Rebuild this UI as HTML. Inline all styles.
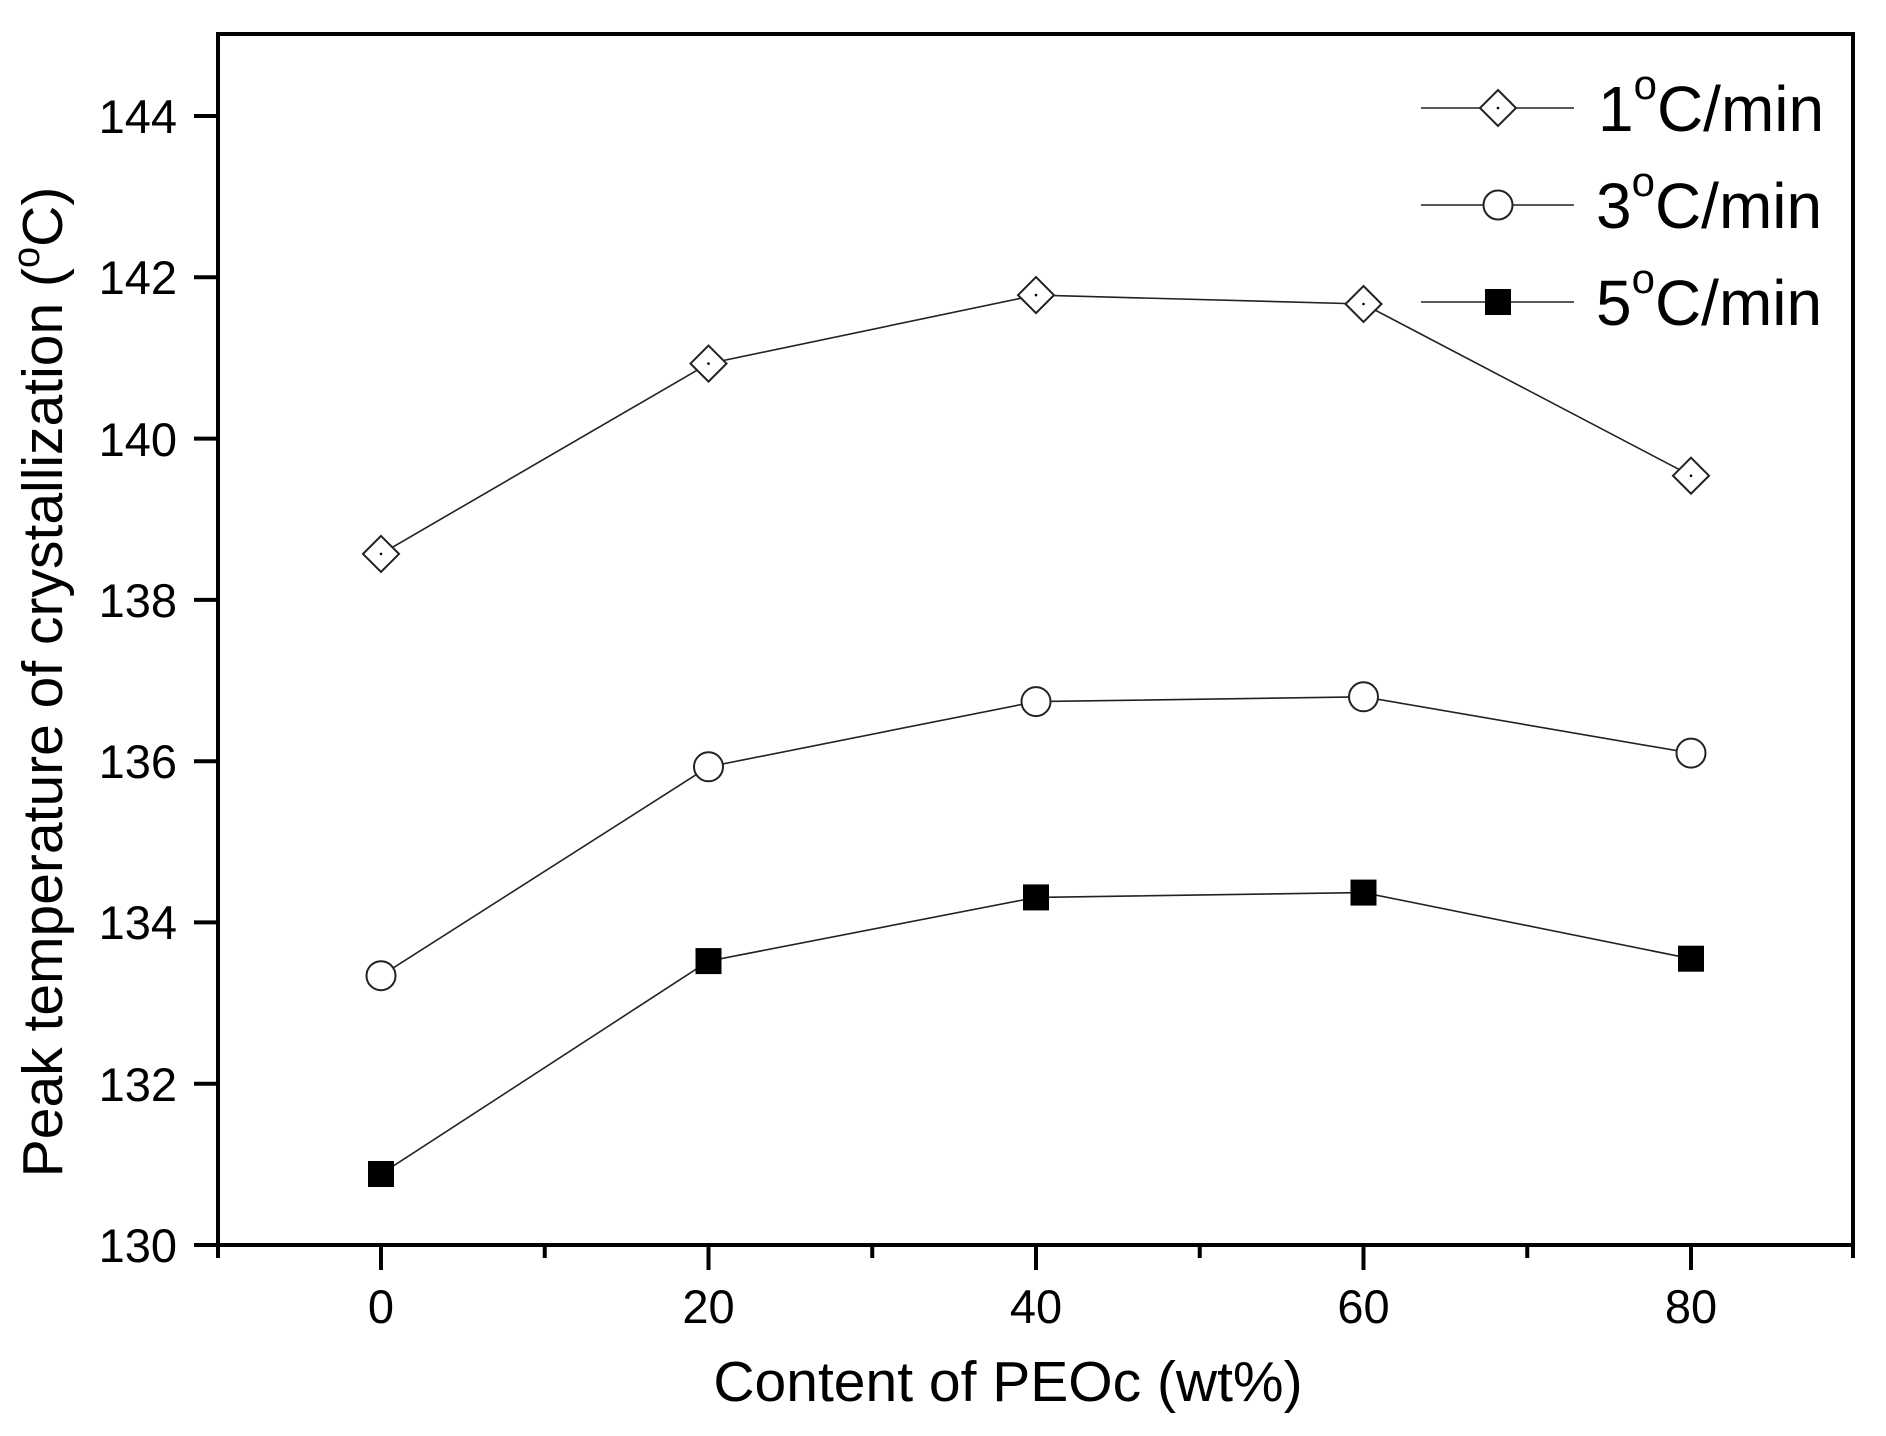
<!DOCTYPE html>
<html><head><meta charset="utf-8"><style>html,body{margin:0;padding:0;background:#fff}svg{display:block}</style></head>
<body>
<svg width="1886" height="1436" viewBox="0 0 1886 1436" xmlns="http://www.w3.org/2000/svg" font-family="Liberation Sans, Arial, sans-serif">
<rect width="1886" height="1436" fill="#fff"/>
<rect x="218" y="34" width="1635" height="1211" fill="none" stroke="#000" stroke-width="4"/>
<g stroke="#000" stroke-width="4">
<line x1="381" y1="1245" x2="381" y2="1270"/><line x1="708.5" y1="1245" x2="708.5" y2="1270"/><line x1="1036" y1="1245" x2="1036" y2="1270"/><line x1="1363.5" y1="1245" x2="1363.5" y2="1270"/><line x1="1691" y1="1245" x2="1691" y2="1270"/>
<line x1="218" y1="1245" x2="218" y2="1258"/><line x1="544.75" y1="1245" x2="544.75" y2="1258"/><line x1="872.25" y1="1245" x2="872.25" y2="1258"/><line x1="1199.75" y1="1245" x2="1199.75" y2="1258"/><line x1="1527.25" y1="1245" x2="1527.25" y2="1258"/><line x1="1853" y1="1245" x2="1853" y2="1258"/>
<line x1="194" y1="1245" x2="218" y2="1245"/><line x1="194" y1="1083.7" x2="218" y2="1083.7"/><line x1="194" y1="922.4" x2="218" y2="922.4"/><line x1="194" y1="761.2" x2="218" y2="761.2"/><line x1="194" y1="599.9" x2="218" y2="599.9"/><line x1="194" y1="438.6" x2="218" y2="438.6"/><line x1="194" y1="277.3" x2="218" y2="277.3"/><line x1="194" y1="116" x2="218" y2="116"/>
</g>
<g font-size="47" text-anchor="end" fill="#000">
<text x="177" y="1262">130</text><text x="177" y="1101">132</text><text x="177" y="939">134</text><text x="177" y="778">136</text><text x="177" y="617">138</text><text x="177" y="456">140</text><text x="177" y="294">142</text><text x="177" y="133">144</text>
</g>
<g font-size="47" text-anchor="middle" fill="#000">
<text x="381" y="1323">0</text><text x="708.5" y="1323">20</text><text x="1036" y="1323">40</text><text x="1363.5" y="1323">60</text><text x="1691" y="1323">80</text>
</g>
<text x="1008" y="1401" font-size="57" text-anchor="middle">Content of PEOc (wt%)</text>
<text transform="translate(62,682) rotate(-90)" font-size="57" text-anchor="middle">Peak temperature of crystallization (<tspan font-size="38" dy="-23">o</tspan><tspan dy="23">C)</tspan></text>
<g fill="none" stroke="#222" stroke-width="1.6">
<polyline points="381,553.9 708.5,363.6 1036,295.1 1363.5,304 1691,475.7"/>
<polyline points="381,975.7 708.5,766.8 1036,701.6 1363.5,696.8 1691,753.1"/>
<polyline points="381,1174 708.5,961.1 1036,897.4 1363.5,892.6 1691,958.7"/>
<line x1="1421" y1="108" x2="1574" y2="108"/><line x1="1421" y1="205" x2="1574" y2="205"/><line x1="1421" y1="302" x2="1574" y2="302"/>
</g>
<g fill="#fff" stroke="#222" stroke-width="2">
<path d="M381,535.9 l18,18 l-18,18 l-18,-18z"/><path d="M708.5,345.6 l18,18 l-18,18 l-18,-18z"/><path d="M1036,277.1 l18,18 l-18,18 l-18,-18z"/><path d="M1363.5,286 l18,18 l-18,18 l-18,-18z"/><path d="M1691,457.7 l18,18 l-18,18 l-18,-18z"/><path d="M1498,90 l18,18 l-18,18 l-18,-18z"/>
<circle cx="381" cy="975.7" r="14.5"/><circle cx="708.5" cy="766.8" r="14.5"/><circle cx="1036" cy="701.6" r="14.5"/><circle cx="1363.5" cy="696.8" r="14.5"/><circle cx="1691" cy="753.1" r="14.5"/><circle cx="1498" cy="205" r="14.5"/>
</g>
<g fill="#000">
<rect x="368" y="1161" width="26" height="26"/><rect x="695.5" y="948.1" width="26" height="26"/><rect x="1023" y="884.4" width="26" height="26"/><rect x="1350.5" y="879.6" width="26" height="26"/><rect x="1678" y="945.7" width="26" height="26"/><rect x="1485" y="289" width="26" height="26"/>
<circle cx="381" cy="553.9" r="1.3"/><circle cx="708.5" cy="363.6" r="1.3"/><circle cx="1036" cy="295.1" r="1.3"/><circle cx="1363.5" cy="304" r="1.3"/><circle cx="1691" cy="475.7" r="1.3"/><circle cx="1498" cy="108" r="1.3"/>
</g>
<g font-size="64" fill="#000">
<text x="1598" y="131">1<tspan font-size="42" dy="-32">o</tspan><tspan dy="32">C/min</tspan></text>
<text x="1596" y="228">3<tspan font-size="42" dy="-32">o</tspan><tspan dy="32">C/min</tspan></text>
<text x="1596" y="325">5<tspan font-size="42" dy="-32">o</tspan><tspan dy="32">C/min</tspan></text>
</g>
</svg>
</body></html>
